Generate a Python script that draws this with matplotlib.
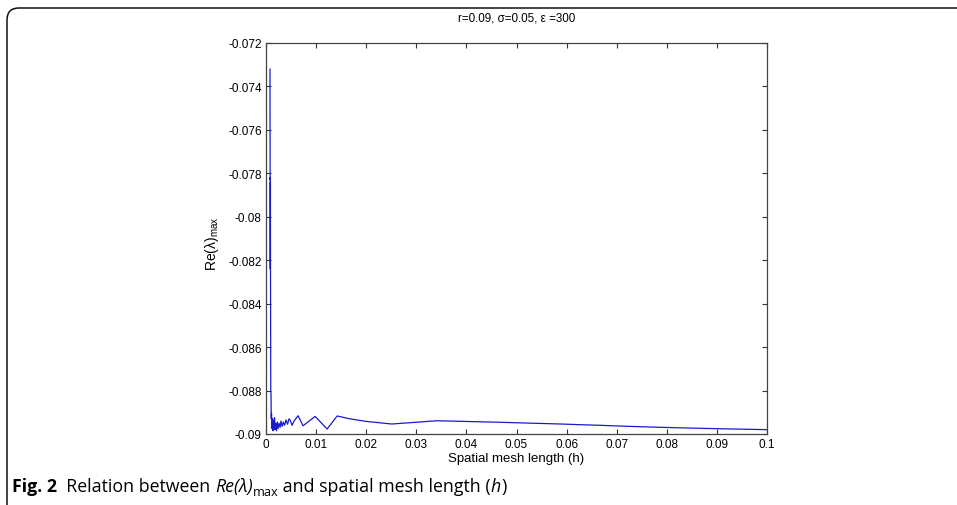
import matplotlib
matplotlib.use("Agg")
import matplotlib.pyplot as plt
from matplotlib.patches import FancyBboxPatch
from matplotlib.transforms import IdentityTransform

# spatial mesh length h and the real part of the leading eigenvalue
h_vals = [0.00080, 0.00082, 0.00084, 0.00086, 0.00088, 0.00090, 0.00095,
          0.00100, 0.00105, 0.00110, 0.00120, 0.00130, 0.00140, 0.00150,
          0.00160, 0.00170, 0.00180, 0.00195, 0.00210, 0.00225, 0.00240,
          0.00260, 0.00280, 0.00300, 0.00320, 0.00345, 0.00370, 0.00400,
          0.00430, 0.00460, 0.00480, 0.00520, 0.00560, 0.00640, 0.00740,
          0.00980, 0.01220, 0.01420, 0.01670, 0.02000, 0.02510, 0.03410,
          0.04670, 0.05260, 0.05880, 0.06250, 0.06670, 0.07140, 0.07690,
          0.08330, 0.09090, 0.10000]
re_vals = [-0.07320, -0.07830, -0.07820, -0.08240, -0.07840, -0.08250, -0.08800,
           -0.08820, -0.08930, -0.08905, -0.08975, -0.08930, -0.08985, -0.08940,
           -0.08970, -0.08925, -0.08980, -0.08950, -0.08985, -0.08945, -0.08975,
           -0.08950, -0.08970, -0.08940, -0.08965, -0.08945, -0.08960, -0.08935,
           -0.08955, -0.08930, -0.08935, -0.08960, -0.08940, -0.08916, -0.08962,
           -0.08919, -0.08977, -0.08917, -0.08930, -0.08942, -0.08954, -0.08939,
           -0.08946, -0.08950, -0.08954, -0.08957, -0.08960, -0.08964, -0.08968,
           -0.08972, -0.08976, -0.08980]

x_ticks = [0, 0.01, 0.02, 0.03, 0.04, 0.05, 0.06, 0.07, 0.08, 0.09, 0.1]
x_labels = ["0", "0.01", "0.02", "0.03", "0.04", "0.05", "0.06", "0.07", "0.08", "0.09", "0.1"]
y_ticks = [-0.09, -0.088, -0.086, -0.084, -0.082, -0.08, -0.078, -0.076, -0.074, -0.072]
y_labels = ["-0.09", "-0.088", "-0.086", "-0.084", "-0.082", "-0.08", "-0.078", "-0.076", "-0.074", "-0.072"]

plt.rcParams["font.family"] = ["Liberation Sans", "DejaVu Sans"]

fig = plt.figure(figsize=(9.57, 5.06), dpi=100)
ax = fig.add_axes([266 / 957, 1 - 435 / 506, 501 / 957, 391 / 506])

ax.plot(h_vals, re_vals, color="#1a1acc", linewidth=0.9)
ax.set_xlim(0, 0.1)
ax.set_ylim(-0.09, -0.072)
ax.set_xticks(x_ticks)
ax.set_xticklabels(x_labels)
ax.set_yticks(y_ticks)
ax.set_yticklabels(y_labels)
ax.tick_params(direction="in", length=3.5, width=0.8, labelsize=8.5, colors="#333333",
               labelcolor="black", top=True, right=True, pad=3)
for s in ax.spines.values():
    s.set_color("#444444")
    s.set_linewidth(0.9)

ax.set_title("r=0.09, \u03c3=0.05, \u03b5 =300", fontsize=8.4, pad=16)
ax.set_xlabel("Spatial mesh length (h)", fontsize=9.5, labelpad=1)
ax.set_ylabel("Re(\u03bb)$_{\\mathregular{max}}$", fontsize=10)
ax.yaxis.set_label_coords(-0.089, 0.49)

# rounded frame of the figure panel
frame = FancyBboxPatch((7, -40), 1100, 497 + 40, boxstyle="round,pad=0,rounding_size=12",
                       transform=IdentityTransform(), fill=False, edgecolor="#111111",
                       linewidth=1.1, clip_on=False)
fig.patches.append(frame)

# caption, built from pieces
renderer = fig.canvas.get_renderer()
cap_y = 1 - 486 / 506
pieces = [
    ("Fig. 2", dict(weight="bold"), 0),
    ("  Relation between ", {}, 0),
    ("Re(\u03bb)", dict(style="italic"), 0),
    ("max", dict(fontsize=9.2), -0.008),
    (" and spatial mesh length (", {}, 0),
    ("h", dict(style="italic"), 0),
    (")", {}, 0),
]
x = 12 / 957
for txt, kw, dy in pieces:
    props = dict(fontsize=12.8, family=["Open Sans", "DejaVu Sans"], va="baseline")
    props.update(kw)
    t = fig.text(x, cap_y - 0.012 + dy, txt, **props)
    bb = t.get_window_extent(renderer)
    x += bb.width / fig.bbox.width

fig.savefig("out.png", dpi=100)
